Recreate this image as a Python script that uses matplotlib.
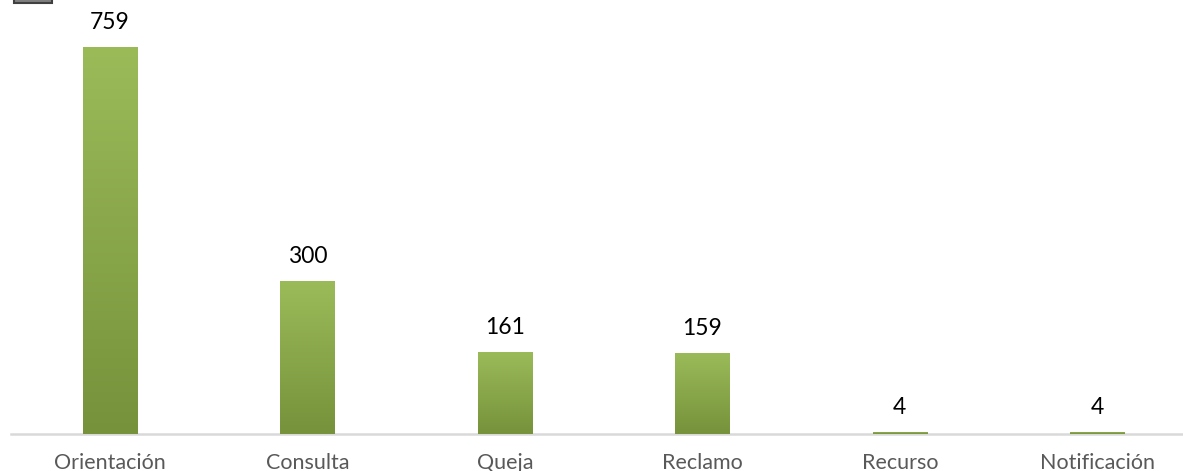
import numpy as np
import matplotlib.pyplot as plt
from matplotlib.colors import LinearSegmentedColormap
from matplotlib.patches import Rectangle

categories = ['Orientación', 'Consulta', 'Queja', 'Reclamo', 'Recurso', 'Notificación']
values = [759, 300, 161, 159, 4, 4]

plt.rcParams['font.family'] = ['Lato', 'DejaVu Sans']

fig = plt.figure(figsize=(11.83, 4.71), dpi=100)
ax = fig.add_axes([11.3 / 1183, 1 - 434 / 471, 1184.7 / 1183, 434 / 471])

cmap = LinearSegmentedColormap.from_list('grn', ['#76923B', '#9BBB59'])
grad = np.linspace(0, 1, 256).reshape(-1, 1)

x = np.arange(len(categories))
bars = ax.bar(x, values, width=0.275, color='#9BBB59', zorder=2)
for b in bars:
    x0, w, h = b.get_x(), b.get_width(), b.get_height()
    im = ax.imshow(grad, cmap=cmap, origin='lower', aspect='auto',
                   extent=[x0, x0 + w, 0, max(h, 1)], zorder=3)
    im.set_clip_path(b)

for xi, v in zip(x, values):
    ax.annotate(str(v), (xi, v), xytext=(0, 10), textcoords='offset points',
                ha='center', va='bottom', fontsize=16.5, color='black')

ax.set_xlim(-0.5, len(categories) - 0.5)
ax.set_ylim(0, 851)
ax.set_xticks(x)
ax.set_xticklabels(categories, fontsize=15.5, color='#595959')
ax.tick_params(axis='x', length=0, pad=14)
ax.set_yticks([])
for s in ['top', 'right', 'left']:
    ax.spines[s].set_visible(False)
ax.spines['bottom'].set_color('#D9D9D9')
ax.spines['bottom'].set_linewidth(1.8)
ax.patch.set_visible(False)

# small dark box cut off at the top-left corner
fig.patches.append(Rectangle((14 / 1183, 1 - 3 / 471), 38 / 1183, 5 / 471,
                             transform=fig.transFigure, facecolor='#7F7F7F',
                             edgecolor='#404040', linewidth=1.5))

fig.savefig('out.png', dpi=100)
